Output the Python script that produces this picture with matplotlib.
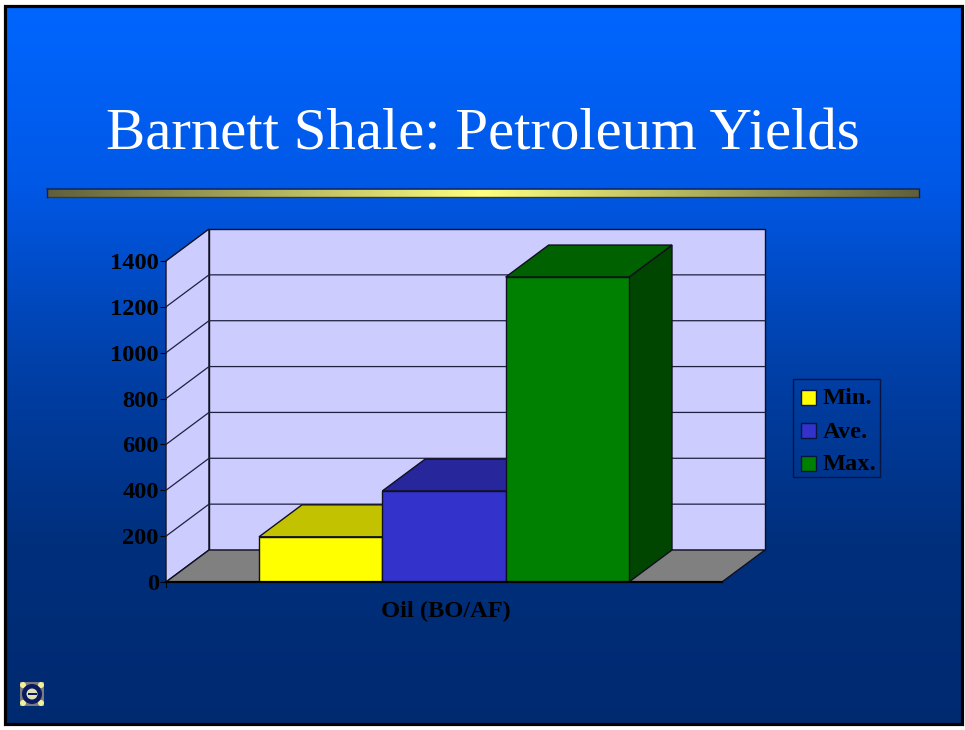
import numpy as np
import matplotlib
matplotlib.use('Agg')
import matplotlib.pyplot as plt
from matplotlib.patches import Polygon, Rectangle, Circle
from matplotlib.colors import LinearSegmentedColormap

W, H = 965, 730

title = 'Barnett Shale: Petroleum Yields'
category = 'Oil (BO/AF)'
series = ['Min.', 'Ave.', 'Max.']
values = [197, 397, 1330]
yticks = [0, 200, 400, 600, 800, 1000, 1200, 1400]
colors = ['#ffff00', '#3333cc', '#008000']
tops = ['#c2c200', '#27279b', '#006100']
sides = ['#8f8f00', '#1c1c70', '#004500']

plt.rcParams['font.family'] = ['Liberation Serif', 'DejaVu Serif']
fig = plt.figure(figsize=(W / 100, H / 100), dpi=100, facecolor='white')


def px_axes(x0, y0, x1, y1):
    # y counted from the top of the picture
    return fig.add_axes([x0 / W, 1 - y1 / H, (x1 - x0) / W, (y1 - y0) / H])


# slide background
bg = px_axes(0, 0, W, H)
slide = LinearSegmentedColormap.from_list('slide', ['#0066ff', '#0058e6', '#0040a8', '#002f7c', '#002a70'])
bg.imshow(np.linspace(0, 1, 256).reshape(-1, 1), cmap=slide, aspect='auto',
          extent=(4, 962, 724, 6), zorder=0)

# rule under the title
rule = LinearSegmentedColormap.from_list('rule', ['#5f5f3c', '#ffff80', '#5f5f3c'])
bg.imshow(np.linspace(0, 1, 256).reshape(1, -1), cmap=rule, aspect='auto',
          extent=(47, 919, 197, 189), zorder=1)
bg.set_xlim(0, W)
bg.set_ylim(H, 0)
bg.axis('off')
bg.add_patch(Rectangle((4.5, 6.3), 957, 717.2, fill=False, ec='black', lw=2.3, zorder=3))
bg.plot([47, 919], [189, 189], color='#0a2a70', lw=1.2, zorder=2)
bg.plot([47, 919], [196.5, 196.5], color='#3a3a20', lw=1, zorder=2)
bg.plot([47, 47], [189, 197], color='#10204a', lw=1, zorder=2)
bg.plot([919, 919], [189, 197], color='#10204a', lw=1, zorder=2)
bg.text(482.5, 135, title, color='white', fontsize=42.4, ha='center', va='center')

# nav button, bottom left
bg.add_patch(Rectangle((20, 682), 24, 24, fc='#7a7a80', ec='none', zorder=2))
for cx in (23, 41):
    for cy in (685, 703):
        bg.add_patch(Circle((cx, cy), 3, fc='#f4f09a', ec='none', zorder=2.5))
bg.add_patch(Circle((32, 694), 10, fc='#0a1a60', ec='none', zorder=3))
bg.add_patch(Circle((32, 694), 5.5, fc='#e0e0b0', ec='none', zorder=4))
bg.add_patch(Rectangle((27.5, 693.2), 9, 1.6, fc='#0a1a60', ec='none', zorder=5))

# chart, front plane of the 3D box
ax = px_axes(166, 261, 722, 582)
ax.patch.set_alpha(0)
ax.set_xlim(0, 1)
ax.set_ylim(0, 1400)
for s in ax.spines.values():
    s.set_visible(False)
ax.set_xticks([])
ax.set_yticks(yticks)
ax.set_yticklabels([str(v) for v in yticks], fontsize=17.6, fontweight='bold', color='black')
ax.tick_params(axis='y', length=4, width=0.8, pad=1.2, color='black')

dx = 43 / 556
dy = 1400 * 32 / 321
wall = '#ccccff'
ln = dict(ec='#101020', lw=1, clip_on=False)

ax.add_patch(Polygon([(0, 0), (dx, dy), (dx, 1400 + dy), (0, 1400)], fc=wall, zorder=1, **ln))
ax.add_patch(Polygon([(dx, dy), (1 + dx, dy), (1 + dx, 1400 + dy), (dx, 1400 + dy)], fc=wall, zorder=1, **ln))
ax.add_patch(Polygon([(0, 0), (1, 0), (1 + dx, dy), (dx, dy)], fc='#808080', zorder=2, **ln))
for v in yticks[1:-1]:
    ax.plot([0, dx, 1 + dx], [v, v + dy, v + dy], color='#202040', lw=0.9, zorder=2, clip_on=False)
ax.plot([0, 1], [0, 0], color='black', lw=1.6, zorder=6, clip_on=False)
ax.plot([0, 0], [0, -20], color='black', lw=0.8, zorder=6, clip_on=False)

gap = 93 / 556
bw = (1 - 2 * gap) / len(values)
for i, v in enumerate(values):
    x0 = gap + i * bw
    x1 = x0 + bw
    ax.add_patch(Polygon([(x1, 0), (x1 + dx, dy), (x1 + dx, v + dy), (x1, v)], fc=sides[i], zorder=3 + i, **ln))
    ax.add_patch(Polygon([(x0, v), (x1, v), (x1 + dx, v + dy), (x0 + dx, v + dy)], fc=tops[i], zorder=3 + i, **ln))
    ax.bar(x0, v, width=bw, align='edge', color=colors[i], edgecolor='#101020', lw=1, zorder=3.5 + i)

bg.text(445.5, 611, category, color='black', fontsize=17.6, fontweight='bold', ha='center', va='center')

# legend, drawn on top
lg = px_axes(0, 0, W, H)
lg.patch.set_alpha(0)
lg.axis('off')
lg.set_xlim(0, W)
lg.set_ylim(H, 0)
lg.add_patch(Rectangle((793, 379), 87, 98, fill=False, ec='#0a1440', lw=1))
for i, name in enumerate(series):
    y = 397 + i * 33
    lg.add_patch(Rectangle((801, y - 7.5), 15, 15, fc=colors[i], ec='#0a1440', lw=1))
    lg.text(823, y + 2, name, color='black', fontsize=17.6, fontweight='bold', va='center')

fig.savefig('out.png', dpi=100)
